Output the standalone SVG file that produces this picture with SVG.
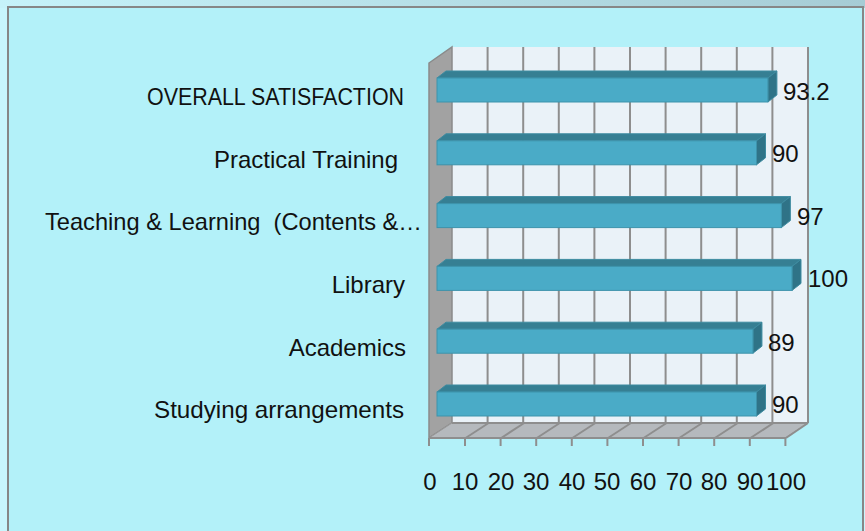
<svg xmlns="http://www.w3.org/2000/svg" width="865" height="531" viewBox="0 0 865 531">
<defs>
<linearGradient id="topg" x1="0" y1="0" x2="1" y2="0">
<stop offset="0" stop-color="#c6f3fa"/>
<stop offset="1" stop-color="#a6ccd5"/>
</linearGradient>
</defs>
<style>
.t{font-family:"Liberation Sans",Arial,sans-serif;font-size:24px;fill:#111}
.cat{text-anchor:end}
.ax{text-anchor:middle}
.pre{white-space:pre}
.grid{stroke:#8e8e8e;stroke-width:2;fill:none}
.front{fill:#4aabc7;stroke:#3d93ab;stroke-width:1}
.top{fill:#367f93;stroke:#3d8ba0;stroke-width:1}
.side{fill:#2f7387;stroke:#3d8ba0;stroke-width:1}
</style>
<rect x="0" y="0" width="865" height="531" fill="#c8f6fd"/>
<rect x="0" y="0" width="865" height="8" fill="url(#topg)"/>
<rect x="8" y="7" width="855" height="530" fill="#b3f1f9" stroke="#878787" stroke-width="2"/>

<g id="plot-area">
<polygon points="452,47 808,47 808,423 452,423" fill="#eaf2f8"/>
<polygon points="429,63 452,47 452,423 429,438" fill="#a2a2a2" stroke="#8a8a8a" stroke-width="1.5"/>
<polygon points="429,438 452,423 808,423 785,438" fill="#b5b9bd" stroke="#9a9a9a" stroke-width="1"/>
<g class="grid">
<line x1="487.6" y1="47" x2="487.6" y2="423"/>
<line x1="523.2" y1="47" x2="523.2" y2="423"/>
<line x1="558.8" y1="47" x2="558.8" y2="423"/>
<line x1="594.4" y1="47" x2="594.4" y2="423"/>
<line x1="630" y1="47" x2="630" y2="423"/>
<line x1="665.6" y1="47" x2="665.6" y2="423"/>
<line x1="701.2" y1="47" x2="701.2" y2="423"/>
<line x1="736.8" y1="47" x2="736.8" y2="423"/>
<line x1="772.4" y1="47" x2="772.4" y2="423"/>
<line x1="808" y1="47" x2="808" y2="423"/>
<line x1="452" y1="423" x2="808" y2="423"/>
<line x1="465.6" y1="438" x2="488.6" y2="423"/>
<line x1="501.2" y1="438" x2="524.2" y2="423"/>
<line x1="536.8" y1="438" x2="559.8" y2="423"/>
<line x1="572.4" y1="438" x2="595.4" y2="423"/>
<line x1="608" y1="438" x2="631" y2="423"/>
<line x1="643.6" y1="438" x2="666.6" y2="423"/>
<line x1="679.2" y1="438" x2="702.2" y2="423"/>
<line x1="714.8" y1="438" x2="737.8" y2="423"/>
<line x1="750.4" y1="438" x2="773.4" y2="423"/>
<line x1="786" y1="438" x2="808" y2="423"/>
<line x1="429" y1="438" x2="786" y2="438"/>
<line x1="429" y1="438" x2="429" y2="446"/>
<line x1="465" y1="438" x2="465" y2="446"/>
<line x1="500.6" y1="438" x2="500.6" y2="446"/>
<line x1="536.2" y1="438" x2="536.2" y2="446"/>
<line x1="571.8" y1="438" x2="571.8" y2="446"/>
<line x1="607.4" y1="438" x2="607.4" y2="446"/>
<line x1="643" y1="438" x2="643" y2="446"/>
<line x1="678.6" y1="438" x2="678.6" y2="446"/>
<line x1="714.2" y1="438" x2="714.2" y2="446"/>
<line x1="749.8" y1="438" x2="749.8" y2="446"/>
<line x1="785.4" y1="438" x2="785.4" y2="446"/>
</g>
</g>

<g id="bar-overall">
<polygon class="top" points="437,78 446,71 776.9,71 767.9,78"/>
<polygon class="side" points="767.9,78 776.9,71 776.9,95 767.9,102"/>
<rect class="front" x="437" y="78" width="330.9" height="24"/>
<text class="t" x="147" y="105" textLength="257" lengthAdjust="spacingAndGlyphs">OVERALL SATISFACTION</text>
<text class="t" x="783" y="100">93.2</text>
</g>
<g id="bar-practical">
<polygon class="top" points="437,140.8 446,133.8 765.5,133.8 756.5,140.8"/>
<polygon class="side" points="756.5,140.8 765.5,133.8 765.5,157.8 756.5,164.8"/>
<rect class="front" x="437" y="140.8" width="319.5" height="24"/>
<text class="t cat" x="398" y="168">Practical Training</text>
<text class="t" x="772" y="162">90</text>
</g>
<g id="bar-teaching">
<polygon class="top" points="437,203.6 446,196.6 790.35,196.6 781.35,203.6"/>
<polygon class="side" points="781.35,203.6 790.35,196.6 790.35,220.6 781.35,227.6"/>
<rect class="front" x="437" y="203.6" width="344.35" height="24"/>
<text class="t pre" x="45" y="230" xml:space="preserve" textLength="377" lengthAdjust="spacingAndGlyphs">Teaching &amp; Learning  (Contents &amp;…</text>
<text class="t" x="797" y="225">97</text>
</g>
<g id="bar-library">
<polygon class="top" points="437,266.4 446,259.4 801,259.4 792,266.4"/>
<polygon class="side" points="792,266.4 801,259.4 801,283.4 792,290.4"/>
<rect class="front" x="437" y="266.4" width="355" height="24"/>
<text class="t cat" x="405" y="293">Library</text>
<text class="t" x="808" y="287">100</text>
</g>
<g id="bar-academics">
<polygon class="top" points="437,329.2 446,322.2 761.95,322.2 752.95,329.2"/>
<polygon class="side" points="752.95,329.2 761.95,322.2 761.95,346.2 752.95,353.2"/>
<rect class="front" x="437" y="329.2" width="315.95" height="24"/>
<text class="t cat" x="406" y="356">Academics</text>
<text class="t" x="768" y="351">89</text>
</g>
<g id="bar-studying">
<polygon class="top" points="437,392 446,385 765.5,385 756.5,392"/>
<polygon class="side" points="756.5,392 765.5,385 765.5,409 756.5,416"/>
<rect class="front" x="437" y="392" width="319.5" height="24"/>
<text class="t" x="154" y="418" textLength="250" lengthAdjust="spacingAndGlyphs">Studying arrangements</text>
<text class="t" x="772" y="413">90</text>
</g>

<g id="x-axis-labels">
<text class="t ax" x="430" y="490">0</text>
<text class="t ax" x="465" y="490">10</text>
<text class="t ax" x="501" y="490">20</text>
<text class="t ax" x="536" y="490">30</text>
<text class="t ax" x="572" y="490">40</text>
<text class="t ax" x="607" y="490">50</text>
<text class="t ax" x="643" y="490">60</text>
<text class="t ax" x="679" y="490">70</text>
<text class="t ax" x="714" y="490">80</text>
<text class="t ax" x="750" y="490">90</text>
<text class="t ax" x="786" y="490">100</text>
</g>
</svg>
